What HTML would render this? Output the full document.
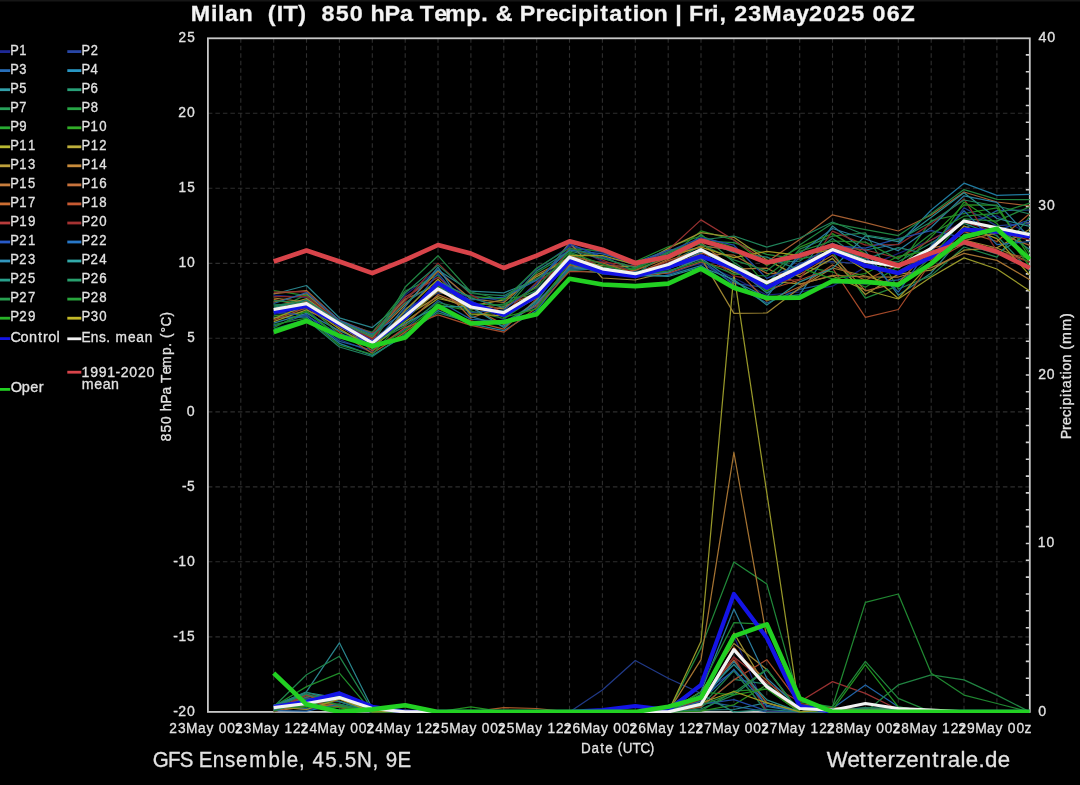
<!DOCTYPE html>
<html><head><meta charset="utf-8"><style>
html,body{margin:0;padding:0;background:#000;overflow:hidden}
svg{display:block;filter:blur(0.7px)}
text{font-family:"Liberation Sans",sans-serif;fill:#e2e2e2;white-space:pre;stroke:#e2e2e2;stroke-width:0.3px}
</style></head><body>
<svg width="1080" height="785" viewBox="0 0 1080 785">
<rect x="0" y="0" width="1080" height="785" fill="#000"/>
<rect x="0" y="0" width="1080" height="1.5" fill="#161616"/>

<path d="M240.8 38.3V711.9 M273.7 38.3V711.9 M306.5 38.3V711.9 M339.4 38.3V711.9 M372.3 38.3V711.9 M405.2 38.3V711.9 M438.0 38.3V711.9 M470.9 38.3V711.9 M503.8 38.3V711.9 M536.7 38.3V711.9 M569.5 38.3V711.9 M602.4 38.3V711.9 M635.3 38.3V711.9 M668.2 38.3V711.9 M701.0 38.3V711.9 M733.9 38.3V711.9 M766.8 38.3V711.9 M799.7 38.3V711.9 M832.5 38.3V711.9 M865.4 38.3V711.9 M898.3 38.3V711.9 M931.2 38.3V711.9 M964.0 38.3V711.9 M996.9 38.3V711.9 M207.9 636.9H1029.8 M207.9 561.8H1029.8 M207.9 486.9H1029.8 M207.9 411.9H1029.8 M207.9 338.3H1029.8 M207.9 263.4H1029.8 M207.9 188.2H1029.8 M207.9 113.2H1029.8" stroke="#2e2e2e" stroke-width="1.1" stroke-dasharray="4.5 3" fill="none"/>
<path d="M1025.8 695.1H1029.8 M1025.8 678.2H1029.8 M1025.8 661.4H1029.8 M1025.8 644.5H1029.8 M1025.8 627.7H1029.8 M1025.8 610.8H1029.8 M1025.8 594.0H1029.8 M1025.8 577.1H1029.8 M1025.8 560.3H1029.8 M1025.8 543.5H1029.8 M1025.8 526.6H1029.8 M1025.8 509.8H1029.8 M1025.8 492.9H1029.8 M1025.8 476.1H1029.8 M1025.8 459.2H1029.8 M1025.8 442.4H1029.8 M1025.8 425.5H1029.8 M1025.8 408.7H1029.8 M1025.8 391.8H1029.8 M1025.8 375.0H1029.8 M1025.8 358.2H1029.8 M1025.8 341.3H1029.8 M1025.8 324.5H1029.8 M1025.8 307.6H1029.8 M1025.8 290.8H1029.8 M1025.8 273.9H1029.8 M1025.8 257.1H1029.8 M1025.8 240.2H1029.8 M1025.8 223.4H1029.8 M1025.8 206.6H1029.8 M1025.8 189.7H1029.8 M1025.8 172.9H1029.8 M1025.8 156.0H1029.8 M1025.8 139.2H1029.8 M1025.8 122.3H1029.8 M1025.8 105.5H1029.8 M1025.8 88.6H1029.8 M1025.8 71.8H1029.8 M1025.8 54.9H1029.8" stroke="#d0d0d0" stroke-width="1.6" fill="none"/>
<rect x="207.9" y="38.3" width="821.9" height="673.6" stroke="#c8c8c8" stroke-width="1.8" fill="none"/>
<defs><clipPath id="pc"><rect x="206.9" y="37.3" width="823.9" height="675.6"/></clipPath></defs><g clip-path="url(#pc)">
<polyline points="273.7,295.1 306.5,297.6 339.4,323.5 372.3,342.7 405.2,295.1 438.0,269.3 470.9,302.0 503.8,320.0 536.7,289.1 569.5,245.1 602.4,261.5 635.3,272.1 668.2,270.1 701.0,264.0 733.9,277.7 766.8,295.1 799.7,292.0 832.5,286.2 865.4,267.1 898.3,253.5 931.2,240.0 964.0,221.0 996.9,215.9 1029.8,234.6" stroke="#18207a" stroke-width="1.25" fill="none" stroke-linejoin="round"/>
<polyline points="273.7,707.7 306.5,696.9 339.4,698.5 372.3,711.9 405.2,710.3 438.0,711.9 470.9,711.9 503.8,711.9 536.7,711.9 569.5,711.9 602.4,711.9 635.3,711.9 668.2,711.9 701.0,698.2 733.9,636.1 766.8,711.5 799.7,711.9 832.5,709.9 865.4,707.9 898.3,709.2 931.2,711.9 964.0,711.9 996.9,711.9 1029.8,711.9" stroke="#18207a" stroke-width="1.25" fill="none" stroke-linejoin="round"/>
<polyline points="273.7,314.5 306.5,308.8 339.4,339.5 372.3,352.1 405.2,308.5 438.0,292.9 470.9,295.7 503.8,301.1 536.7,269.0 569.5,246.3 602.4,252.4 635.3,265.6 668.2,274.3 701.0,262.5 733.9,283.3 766.8,287.6 799.7,262.9 832.5,261.6 865.4,264.1 898.3,271.4 931.2,252.5 964.0,207.8 996.9,225.9 1029.8,223.1" stroke="#203987" stroke-width="1.25" fill="none" stroke-linejoin="round"/>
<polyline points="273.7,705.8 306.5,709.6 339.4,704.0 372.3,711.9 405.2,711.5 438.0,711.9 470.9,711.9 503.8,711.9 536.7,711.9 569.5,711.9 602.4,690.0 635.3,660.5 668.2,678.2 701.0,693.4 733.9,671.0 766.8,711.7 799.7,711.9 832.5,711.0 865.4,710.7 898.3,708.0 931.2,711.9 964.0,711.9 996.9,711.9 1029.8,711.9" stroke="#203987" stroke-width="1.25" fill="none" stroke-linejoin="round"/>
<polyline points="273.7,326.1 306.5,314.5 339.4,341.4 372.3,350.0 405.2,329.1 438.0,300.5 470.9,319.4 503.8,321.4 536.7,306.1 569.5,267.8 602.4,270.4 635.3,273.8 668.2,268.1 701.0,259.4 733.9,285.1 766.8,303.0 799.7,289.4 832.5,282.5 865.4,283.8 898.3,279.9 931.2,264.9 964.0,228.8 996.9,210.6 1029.8,210.0" stroke="#205a97" stroke-width="1.25" fill="none" stroke-linejoin="round"/>
<polyline points="273.7,706.7 306.5,708.7 339.4,698.5 372.3,711.9 405.2,711.7 438.0,711.9 470.9,711.9 503.8,711.9 536.7,711.9 569.5,711.9 602.4,711.9 635.3,711.9 668.2,711.9 701.0,701.1 733.9,706.2 766.8,711.9 799.7,711.9 832.5,708.2 865.4,711.0 898.3,711.0 931.2,711.9 964.0,711.9 996.9,711.9 1029.8,711.9" stroke="#205a97" stroke-width="1.25" fill="none" stroke-linejoin="round"/>
<polyline points="273.7,317.3 306.5,316.9 339.4,343.3 372.3,355.4 405.2,335.2 438.0,310.7 470.9,323.8 503.8,330.6 536.7,310.3 569.5,269.0 602.4,269.6 635.3,275.9 668.2,275.4 701.0,265.6 733.9,287.0 766.8,299.0 799.7,294.7 832.5,246.0 865.4,250.0 898.3,244.0 931.2,210.0 964.0,183.2 996.9,195.4 1029.8,194.4" stroke="#207a9f" stroke-width="1.25" fill="none" stroke-linejoin="round"/>
<polyline points="273.7,705.3 306.5,694.3 339.4,707.0 372.3,711.9 405.2,710.3 438.0,711.9 470.9,711.9 503.8,711.9 536.7,711.9 569.5,711.9 602.4,711.9 635.3,711.9 668.2,711.9 701.0,702.8 733.9,661.1 766.8,706.3 799.7,711.9 832.5,707.9 865.4,709.0 898.3,707.8 931.2,711.9 964.0,711.9 996.9,711.9 1029.8,711.9" stroke="#207a9f" stroke-width="1.25" fill="none" stroke-linejoin="round"/>
<polyline points="273.7,294.0 306.5,285.5 339.4,317.8 372.3,327.6 405.2,300.0 438.0,270.0 470.9,291.2 503.8,292.8 536.7,280.0 569.5,250.0 602.4,256.0 635.3,271.3 668.2,269.1 701.0,252.1 733.9,266.2 766.8,293.1 799.7,272.2 832.5,225.9 865.4,251.0 898.3,295.2 931.2,272.9 964.0,234.6 996.9,227.9 1029.8,249.4" stroke="#29838b" stroke-width="1.25" fill="none" stroke-linejoin="round"/>
<polyline points="273.7,705.9 306.5,691.7 339.4,642.8 372.3,708.5 405.2,711.6 438.0,711.9 470.9,711.9 503.8,711.9 536.7,711.9 569.5,711.9 602.4,711.9 635.3,711.9 668.2,711.9 701.0,710.2 733.9,709.5 766.8,702.7 799.7,711.9 832.5,709.4 865.4,711.9 898.3,709.0 931.2,711.9 964.0,711.9 996.9,711.9 1029.8,711.9" stroke="#29838b" stroke-width="1.25" fill="none" stroke-linejoin="round"/>
<polyline points="273.7,329.2 306.5,319.4 339.4,347.0 372.3,356.5 405.2,333.7 438.0,312.8 470.9,322.3 503.8,322.9 536.7,302.0 569.5,270.2 602.4,272.9 635.3,275.5 668.2,263.4 701.0,245.6 733.9,250.2 766.8,262.7 799.7,261.1 832.5,238.6 865.4,261.5 898.3,261.8 931.2,243.0 964.0,223.3 996.9,235.7 1029.8,270.8" stroke="#208362" stroke-width="1.25" fill="none" stroke-linejoin="round"/>
<polyline points="273.7,709.6 306.5,705.6 339.4,698.1 372.3,711.9 405.2,711.1 438.0,711.9 470.9,711.9 503.8,711.9 536.7,711.9 569.5,711.9 602.4,711.9 635.3,711.9 668.2,711.9 701.0,707.4 733.9,679.4 766.8,684.1 799.7,711.9 832.5,711.7 865.4,707.8 898.3,711.8 931.2,711.9 964.0,711.9 996.9,711.9 1029.8,711.9" stroke="#208362" stroke-width="1.25" fill="none" stroke-linejoin="round"/>
<polyline points="273.7,306.1 306.5,299.5 339.4,321.0 372.3,343.4 405.2,326.1 438.0,302.5 470.9,309.9 503.8,303.8 536.7,290.7 569.5,254.3 602.4,270.8 635.3,275.0 668.2,266.2 701.0,234.3 733.9,262.2 766.8,284.2 799.7,249.2 832.5,236.1 865.4,232.8 898.3,289.0 931.2,275.6 964.0,247.0 996.9,257.1 1029.8,216.7" stroke="#208349" stroke-width="1.25" fill="none" stroke-linejoin="round"/>
<polyline points="273.7,706.8 306.5,674.8 339.4,656.3 372.3,710.2 405.2,710.6 438.0,711.9 470.9,711.9 503.8,711.9 536.7,711.9 569.5,711.9 602.4,711.9 635.3,711.9 668.2,711.9 701.0,706.4 733.9,670.6 766.8,711.8 799.7,711.9 832.5,711.7 865.4,711.1 898.3,707.9 931.2,711.9 964.0,711.9 996.9,711.9 1029.8,711.9" stroke="#208349" stroke-width="1.25" fill="none" stroke-linejoin="round"/>
<polyline points="273.7,310.6 306.5,294.6 339.4,322.3 372.3,332.4 405.2,291.0 438.0,275.3 470.9,315.2 503.8,311.2 536.7,272.8 569.5,253.2 602.4,267.1 635.3,268.5 668.2,254.7 701.0,240.9 733.9,242.6 766.8,254.3 799.7,259.2 832.5,252.2 865.4,298.2 898.3,285.9 931.2,257.3 964.0,218.8 996.9,221.1 1029.8,206.7" stroke="#208739" stroke-width="1.25" fill="none" stroke-linejoin="round"/>
<polyline points="273.7,710.6 306.5,696.6 339.4,696.2 372.3,711.9 405.2,710.3 438.0,711.9 470.9,711.9 503.8,711.9 536.7,711.9 569.5,711.9 602.4,711.9 635.3,711.9 668.2,711.9 701.0,647.9 733.9,562.0 766.8,583.9 799.7,701.8 832.5,706.8 865.4,661.4 898.3,698.4 931.2,711.9 964.0,711.9 996.9,711.9 1029.8,711.9" stroke="#208739" stroke-width="1.25" fill="none" stroke-linejoin="round"/>
<polyline points="273.7,290.7 306.5,295.6 339.4,324.2 372.3,349.0 405.2,330.6 438.0,304.5 470.9,311.1 503.8,318.5 536.7,296.8 569.5,248.7 602.4,250.8 635.3,261.5 668.2,246.8 701.0,236.0 733.9,247.7 766.8,285.9 799.7,266.3 832.5,271.8 865.4,287.3 898.3,266.5 931.2,220.6 964.0,213.5 996.9,207.8 1029.8,253.6" stroke="#208b29" stroke-width="1.25" fill="none" stroke-linejoin="round"/>
<polyline points="273.7,706.5 306.5,686.6 339.4,673.2 372.3,711.9 405.2,710.3 438.0,711.9 470.9,711.9 503.8,711.9 536.7,711.9 569.5,711.9 602.4,711.9 635.3,711.9 668.2,711.9 701.0,711.0 733.9,691.1 766.8,688.8 799.7,711.9 832.5,708.0 865.4,710.5 898.3,708.0 931.2,711.9 964.0,711.9 996.9,711.9 1029.8,711.9" stroke="#208b29" stroke-width="1.25" fill="none" stroke-linejoin="round"/>
<polyline points="273.7,315.9 306.5,312.2 339.4,335.9 372.3,340.6 405.2,315.3 438.0,283.0 470.9,296.8 503.8,298.4 536.7,295.5 569.5,261.1 602.4,270.0 635.3,269.4 668.2,257.7 701.0,230.9 733.9,240.0 766.8,265.5 799.7,247.1 832.5,233.6 865.4,253.9 898.3,268.8 931.2,236.9 964.0,204.9 996.9,205.1 1029.8,257.8" stroke="#298d20" stroke-width="1.25" fill="none" stroke-linejoin="round"/>
<polyline points="273.7,708.2 306.5,705.6 339.4,706.6 372.3,711.9 405.2,711.6 438.0,711.9 470.9,711.9 503.8,711.9 536.7,711.9 569.5,711.9 602.4,711.9 635.3,711.9 668.2,711.9 701.0,711.2 733.9,704.8 766.8,684.9 799.7,711.9 832.5,707.7 865.4,711.2 898.3,711.7 931.2,711.9 964.0,711.9 996.9,711.9 1029.8,711.9" stroke="#298d20" stroke-width="1.25" fill="none" stroke-linejoin="round"/>
<polyline points="273.7,321.6 306.5,309.9 339.4,325.7 372.3,347.0 405.2,321.7 438.0,298.5 470.9,305.8 503.8,299.8 536.7,276.6 569.5,258.0 602.4,269.3 635.3,274.0 668.2,264.5 701.0,254.9 733.9,272.4 766.8,280.8 799.7,284.0 832.5,276.0 865.4,290.0 898.3,299.0 931.2,277.0 964.0,257.9 996.9,269.0 1029.8,291.0" stroke="#979729" stroke-width="1.25" fill="none" stroke-linejoin="round"/>
<polyline points="273.7,705.3 306.5,701.1 339.4,705.1 372.3,711.9 405.2,711.5 438.0,711.9 470.9,711.9 503.8,711.9 536.7,711.9 569.5,711.9 602.4,711.9 635.3,711.9 668.2,711.9 701.0,641.2 733.9,273.9 766.8,492.9 799.7,711.9 832.5,710.1 865.4,711.7 898.3,708.0 931.2,711.9 964.0,711.9 996.9,711.9 1029.8,711.9" stroke="#979729" stroke-width="1.25" fill="none" stroke-linejoin="round"/>
<polyline points="273.7,308.5 306.5,298.5 339.4,321.8 372.3,339.8 405.2,316.5 438.0,296.6 470.9,308.6 503.8,312.2 536.7,292.2 569.5,260.0 602.4,265.7 635.3,266.6 668.2,248.4 701.0,232.6 733.9,237.3 766.8,259.9 799.7,276.9 832.5,258.4 865.4,294.5 898.3,274.1 931.2,270.2 964.0,250.2 996.9,247.7 1029.8,229.3" stroke="#9b8f31" stroke-width="1.25" fill="none" stroke-linejoin="round"/>
<polyline points="273.7,711.7 306.5,701.9 339.4,697.8 372.3,711.9 405.2,711.7 438.0,711.9 470.9,711.9 503.8,711.9 536.7,711.9 569.5,711.9 602.4,711.9 635.3,711.9 668.2,711.9 701.0,698.4 733.9,633.1 766.8,687.9 799.7,711.9 832.5,708.6 865.4,711.5 898.3,710.1 931.2,711.9 964.0,711.9 996.9,711.9 1029.8,711.9" stroke="#9b8f31" stroke-width="1.25" fill="none" stroke-linejoin="round"/>
<polyline points="273.7,298.0 306.5,302.1 339.4,327.3 372.3,342.1 405.2,319.0 438.0,291.1 470.9,304.9 503.8,308.8 536.7,285.7 569.5,242.6 602.4,278.0 635.3,280.0 668.2,272.0 701.0,257.9 733.9,313.4 766.8,313.0 799.7,288.0 832.5,268.0 865.4,276.0 898.3,286.0 931.2,262.0 964.0,240.0 996.9,248.0 1029.8,262.0" stroke="#9b8331" stroke-width="1.25" fill="none" stroke-linejoin="round"/>
<polyline points="273.7,710.9 306.5,694.8 339.4,706.9 372.3,711.9 405.2,711.1 438.0,711.9 470.9,711.9 503.8,711.9 536.7,711.9 569.5,711.9 602.4,711.9 635.3,711.9 668.2,711.9 701.0,691.7 733.9,643.5 766.8,669.5 799.7,711.9 832.5,710.0 865.4,709.8 898.3,708.8 931.2,711.9 964.0,711.9 996.9,711.9 1029.8,711.9" stroke="#9b8331" stroke-width="1.25" fill="none" stroke-linejoin="round"/>
<polyline points="273.7,293.7 306.5,290.5 339.4,320.7 372.3,337.5 405.2,304.8 438.0,271.3 470.9,298.9 503.8,302.5 536.7,274.7 569.5,257.2 602.4,268.3 635.3,274.1 668.2,259.2 701.0,242.5 733.9,269.1 766.8,268.2 799.7,284.3 832.5,275.4 865.4,276.9 898.3,277.0 931.2,267.6 964.0,253.4 996.9,260.4 1029.8,279.7" stroke="#a47231" stroke-width="1.25" fill="none" stroke-linejoin="round"/>
<polyline points="273.7,708.7 306.5,706.0 339.4,705.1 372.3,711.9 405.2,711.7 438.0,711.9 470.9,711.9 503.8,711.9 536.7,711.9 569.5,711.9 602.4,711.9 635.3,711.9 668.2,711.9 701.0,659.7 733.9,452.5 766.8,637.8 799.7,706.8 832.5,709.3 865.4,709.8 898.3,710.5 931.2,711.9 964.0,711.9 996.9,711.9 1029.8,711.9" stroke="#a47231" stroke-width="1.25" fill="none" stroke-linejoin="round"/>
<polyline points="273.7,302.1 306.5,293.6 339.4,322.8 372.3,335.8 405.2,299.0 438.0,284.8 470.9,318.0 503.8,306.4 536.7,293.3 569.5,264.4 602.4,272.5 635.3,274.8 668.2,267.1 701.0,253.5 733.9,255.2 766.8,273.4 799.7,274.5 832.5,255.2 865.4,290.9 898.3,282.9 931.2,248.3 964.0,240.7 996.9,232.9 1029.8,245.4" stroke="#a46631" stroke-width="1.25" fill="none" stroke-linejoin="round"/>
<polyline points="273.7,711.3 306.5,706.4 339.4,698.7 372.3,711.9 405.2,710.4 438.0,711.9 470.9,711.9 503.8,711.9 536.7,711.9 569.5,711.9 602.4,711.9 635.3,711.9 668.2,711.9 701.0,706.5 733.9,650.3 766.8,680.5 799.7,711.9 832.5,709.0 865.4,709.1 898.3,708.7 931.2,711.9 964.0,711.9 996.9,711.9 1029.8,711.9" stroke="#a46631" stroke-width="1.25" fill="none" stroke-linejoin="round"/>
<polyline points="273.7,309.5 306.5,301.3 339.4,321.3 372.3,338.3 405.2,324.6 438.0,294.7 470.9,307.5 503.8,324.4 536.7,304.7 569.5,265.5 602.4,271.6 635.3,270.4 668.2,258.0 701.0,246.0 733.9,250.0 766.8,262.0 799.7,239.6 832.5,214.8 865.4,222.6 898.3,231.0 931.2,215.0 964.0,192.0 996.9,202.0 1029.8,206.0" stroke="#a45e31" stroke-width="1.25" fill="none" stroke-linejoin="round"/>
<polyline points="273.7,709.5 306.5,697.7 339.4,707.2 372.3,711.9 405.2,711.1 438.0,711.9 470.9,711.9 503.8,711.9 536.7,711.9 569.5,711.9 602.4,711.9 635.3,711.9 668.2,711.9 701.0,697.5 733.9,659.8 766.8,703.0 799.7,711.9 832.5,707.9 865.4,709.2 898.3,709.5 931.2,711.9 964.0,711.9 996.9,711.9 1029.8,711.9" stroke="#a45e31" stroke-width="1.25" fill="none" stroke-linejoin="round"/>
<polyline points="273.7,299.4 306.5,306.6 339.4,332.3 372.3,353.2 405.2,332.1 438.0,308.6 470.9,320.8 503.8,329.1 536.7,299.3 569.5,256.3 602.4,262.9 635.3,273.7 668.2,260.7 701.0,249.7 733.9,267.6 766.8,301.0 799.7,286.8 832.5,265.0 865.4,280.3 898.3,264.3 931.2,259.8 964.0,231.6 996.9,241.5 1029.8,213.4" stroke="#a85a29" stroke-width="1.25" fill="none" stroke-linejoin="round"/>
<polyline points="273.7,711.8 306.5,700.8 339.4,707.7 372.3,711.9 405.2,710.8 438.0,711.9 470.9,711.9 503.8,707.7 536.7,708.5 569.5,711.9 602.4,711.9 635.3,711.9 668.2,711.9 701.0,704.5 733.9,647.2 766.8,687.0 799.7,711.9 832.5,708.5 865.4,710.4 898.3,709.2 931.2,711.9 964.0,711.9 996.9,711.9 1029.8,711.9" stroke="#a85a29" stroke-width="1.25" fill="none" stroke-linejoin="round"/>
<polyline points="273.7,320.2 306.5,307.7 339.4,322.6 372.3,351.1 405.2,327.6 438.0,314.9 470.9,325.3 503.8,332.2 536.7,307.5 569.5,271.4 602.4,272.1 635.3,275.4 668.2,273.2 701.0,262.0 733.9,270.0 766.8,290.0 799.7,280.0 832.5,268.0 865.4,317.3 898.3,309.5 931.2,262.0 964.0,244.0 996.9,252.0 1029.8,258.0" stroke="#a44929" stroke-width="1.25" fill="none" stroke-linejoin="round"/>
<polyline points="273.7,706.9 306.5,695.2 339.4,706.0 372.3,711.9 405.2,710.5 438.0,711.9 470.9,711.9 503.8,711.9 536.7,711.9 569.5,711.9 602.4,711.9 635.3,711.9 668.2,711.9 701.0,706.8 733.9,679.9 766.8,659.7 799.7,703.5 832.5,707.9 865.4,709.7 898.3,709.7 931.2,711.9 964.0,711.9 996.9,711.9 1029.8,711.9" stroke="#a44929" stroke-width="1.25" fill="none" stroke-linejoin="round"/>
<polyline points="273.7,292.2 306.5,291.6 339.4,320.1 372.3,333.3 405.2,297.1 438.0,277.3 470.9,303.0 503.8,314.4 536.7,282.1 569.5,262.0 602.4,262.0 635.3,266.0 668.2,250.0 701.0,219.9 733.9,240.0 766.8,262.0 799.7,258.0 832.5,246.0 865.4,250.0 898.3,258.0 931.2,240.0 964.0,222.0 996.9,232.0 1029.8,240.0" stroke="#973131" stroke-width="1.25" fill="none" stroke-linejoin="round"/>
<polyline points="273.7,710.8 306.5,695.0 339.4,696.1 372.3,711.9 405.2,711.1 438.0,711.9 470.9,711.9 503.8,711.9 536.7,711.9 569.5,711.9 602.4,711.9 635.3,711.9 668.2,711.9 701.0,699.4 733.9,657.0 766.8,682.8 799.7,701.8 832.5,681.6 865.4,693.4 898.3,709.5 931.2,711.9 964.0,711.9 996.9,711.9 1029.8,711.9" stroke="#973131" stroke-width="1.25" fill="none" stroke-linejoin="round"/>
<polyline points="273.7,296.5 306.5,296.6 339.4,322.1 372.3,339.1 405.2,301.0 438.0,263.1 470.9,294.6 503.8,313.2 536.7,294.4 569.5,247.5 602.4,260.0 635.3,273.0 668.2,262.0 701.0,250.8 733.9,275.9 766.8,282.8 799.7,279.3 832.5,231.1 865.4,245.1 898.3,244.7 931.2,223.9 964.0,198.9 996.9,250.8 1029.8,262.1" stroke="#872929" stroke-width="1.25" fill="none" stroke-linejoin="round"/>
<polyline points="273.7,707.4 306.5,703.4 339.4,701.4 372.3,711.9 405.2,710.6 438.0,711.9 470.9,711.9 503.8,711.9 536.7,711.9 569.5,711.9 602.4,711.9 635.3,711.9 668.2,711.9 701.0,700.7 733.9,656.9 766.8,711.5 799.7,711.9 832.5,711.2 865.4,710.0 898.3,709.2 931.2,711.9 964.0,711.9 996.9,711.9 1029.8,711.9" stroke="#872929" stroke-width="1.25" fill="none" stroke-linejoin="round"/>
<polyline points="273.7,311.8 306.5,315.7 339.4,334.1 372.3,341.3 405.2,313.8 438.0,273.3 470.9,312.5 503.8,310.0 536.7,283.9 569.5,243.8 602.4,257.0 635.3,263.6 668.2,251.6 701.0,237.6 733.9,245.2 766.8,278.4 799.7,264.7 832.5,245.6 865.4,248.1 898.3,238.6 931.2,230.6 964.0,237.6 996.9,230.2 1029.8,220.0" stroke="#2049a4" stroke-width="1.25" fill="none" stroke-linejoin="round"/>
<polyline points="273.7,710.4 306.5,698.0 339.4,701.3 372.3,711.9 405.2,711.8 438.0,711.9 470.9,711.9 503.8,711.9 536.7,711.9 569.5,711.9 602.4,711.9 635.3,711.9 668.2,711.9 701.0,704.3 733.9,699.7 766.8,710.9 799.7,711.9 832.5,711.3 865.4,710.6 898.3,711.1 931.2,711.9 964.0,711.9 996.9,711.9 1029.8,711.9" stroke="#2049a4" stroke-width="1.25" fill="none" stroke-linejoin="round"/>
<polyline points="273.7,303.5 306.5,292.6 339.4,320.4 372.3,334.1 405.2,312.1 438.0,288.1 470.9,300.0 503.8,297.1 536.7,280.3 569.5,249.8 602.4,253.9 635.3,262.5 668.2,250.0 701.0,248.5 733.9,270.7 766.8,289.4 799.7,257.2 832.5,243.3 865.4,256.6 898.3,292.1 931.2,245.8 964.0,210.7 996.9,244.6 1029.8,241.5" stroke="#2062a4" stroke-width="1.25" fill="none" stroke-linejoin="round"/>
<polyline points="273.7,710.6 306.5,711.2 339.4,704.1 372.3,711.9 405.2,711.3 438.0,711.9 470.9,711.9 503.8,711.9 536.7,711.9 569.5,711.9 602.4,711.9 635.3,711.9 668.2,711.9 701.0,701.2 733.9,669.5 766.8,705.1 799.7,711.9 832.5,708.5 865.4,684.9 898.3,706.8 931.2,711.9 964.0,711.9 996.9,711.9 1029.8,711.9" stroke="#2062a4" stroke-width="1.25" fill="none" stroke-linejoin="round"/>
<polyline points="273.7,323.1 306.5,313.3 339.4,330.6 372.3,345.1 405.2,306.7 438.0,267.2 470.9,316.6 503.8,326.0 536.7,303.3 569.5,266.7 602.4,271.2 635.3,275.7 668.2,272.2 701.0,257.9 733.9,281.4 766.8,297.0 799.7,253.3 832.5,228.5 865.4,239.0 898.3,250.6 931.2,227.3 964.0,195.8 996.9,202.3 1029.8,237.8" stroke="#297a9b" stroke-width="1.25" fill="none" stroke-linejoin="round"/>
<polyline points="273.7,710.0 306.5,703.6 339.4,710.0 372.3,711.9 405.2,710.5 438.0,711.9 470.9,711.9 503.8,711.9 536.7,711.9 569.5,711.9 602.4,711.9 635.3,711.9 668.2,711.9 701.0,691.7 733.9,609.1 766.8,678.2 799.7,708.5 832.5,711.5 865.4,709.6 898.3,710.5 931.2,711.9 964.0,711.9 996.9,711.9 1029.8,711.9" stroke="#297a9b" stroke-width="1.25" fill="none" stroke-linejoin="round"/>
<polyline points="273.7,313.1 306.5,304.6 339.4,323.3 372.3,344.2 405.2,323.2 438.0,306.6 470.9,306.6 503.8,327.5 536.7,300.6 569.5,259.0 602.4,273.3 635.3,275.2 668.2,276.5 701.0,267.2 733.9,279.5 766.8,305.0 799.7,281.8 832.5,268.4 865.4,235.9 898.3,241.7 931.2,217.2 964.0,192.7 996.9,218.5 1029.8,226.3" stroke="#298b8b" stroke-width="1.25" fill="none" stroke-linejoin="round"/>
<polyline points="273.7,708.0 306.5,692.5 339.4,698.1 372.3,711.9 405.2,711.2 438.0,711.9 470.9,711.9 503.8,711.9 536.7,711.9 569.5,711.9 602.4,711.9 635.3,711.9 668.2,711.9 701.0,696.5 733.9,664.5 766.8,699.9 799.7,711.9 832.5,711.3 865.4,709.4 898.3,709.5 931.2,711.9 964.0,711.9 996.9,711.9 1029.8,711.9" stroke="#298b8b" stroke-width="1.25" fill="none" stroke-linejoin="round"/>
<polyline points="273.7,307.3 306.5,300.4 339.4,321.5 372.3,335.0 405.2,302.9 438.0,281.1 470.9,297.9 503.8,307.6 536.7,270.9 569.5,251.0 602.4,258.5 635.3,267.5 668.2,253.2 701.0,239.3 733.9,252.7 766.8,257.1 799.7,269.9 832.5,247.7 865.4,259.2 898.3,247.7 931.2,254.8 964.0,243.8 996.9,253.9 1029.8,232.1" stroke="#208372" stroke-width="1.25" fill="none" stroke-linejoin="round"/>
<polyline points="273.7,705.5 306.5,692.3 339.4,701.6 372.3,711.9 405.2,711.3 438.0,711.9 470.9,711.9 503.8,711.9 536.7,711.9 569.5,711.9 602.4,711.9 635.3,711.9 668.2,711.9 701.0,694.4 733.9,711.9 766.8,709.5 799.7,711.9 832.5,709.5 865.4,709.3 898.3,711.3 931.2,711.9 964.0,711.9 996.9,711.9 1029.8,711.9" stroke="#208372" stroke-width="1.25" fill="none" stroke-linejoin="round"/>
<polyline points="273.7,304.8 306.5,303.7 339.4,323.1 372.3,336.6 405.2,293.0 438.0,265.1 470.9,293.5 503.8,295.7 536.7,278.5 569.5,263.3 602.4,273.8 635.3,274.5 668.2,252.0 701.0,240.0 733.9,236.0 766.8,247.1 799.7,238.0 832.5,222.0 865.4,235.0 898.3,240.0 931.2,222.0 964.0,200.0 996.9,206.0 1029.8,214.0" stroke="#20835a" stroke-width="1.25" fill="none" stroke-linejoin="round"/>
<polyline points="273.7,707.7 306.5,693.9 339.4,705.6 372.3,711.9 405.2,711.2 438.0,711.9 470.9,711.9 503.8,711.9 536.7,711.9 569.5,711.9 602.4,711.9 635.3,711.9 668.2,711.9 701.0,709.0 733.9,694.9 766.8,669.7 799.7,711.9 832.5,710.3 865.4,707.9 898.3,708.1 931.2,711.9 964.0,711.9 996.9,711.9 1029.8,711.9" stroke="#20835a" stroke-width="1.25" fill="none" stroke-linejoin="round"/>
<polyline points="273.7,300.7 306.5,303.0 339.4,335.0 372.3,345.0 405.2,287.0 438.0,255.7 470.9,292.0 503.8,300.0 536.7,268.0 569.5,248.0 602.4,258.0 635.3,268.0 668.2,252.0 701.0,244.1 733.9,259.9 766.8,270.8 799.7,245.1 832.5,223.3 865.4,229.6 898.3,235.6 931.2,213.7 964.0,189.6 996.9,199.4 1029.8,199.7" stroke="#208341" stroke-width="1.25" fill="none" stroke-linejoin="round"/>
<polyline points="273.7,707.9 306.5,706.6 339.4,695.4 372.3,711.9 405.2,711.1 438.0,711.9 470.9,711.9 503.8,711.9 536.7,711.9 569.5,711.9 602.4,711.9 635.3,711.9 668.2,711.9 701.0,705.4 733.9,692.8 766.8,669.0 799.7,711.9 832.5,709.8 865.4,711.9 898.3,684.9 931.2,674.8 964.0,679.9 996.9,695.1 1029.8,711.9" stroke="#208341" stroke-width="1.25" fill="none" stroke-linejoin="round"/>
<polyline points="273.7,324.6 306.5,318.2 339.4,345.1 372.3,354.3 405.2,317.7 438.0,289.5 470.9,304.0 503.8,305.1 536.7,287.4 569.5,252.1 602.4,264.4 635.3,274.3 668.2,271.1 701.0,260.9 733.9,274.2 766.8,276.0 799.7,251.3 832.5,241.0 865.4,242.1 898.3,259.1 931.2,233.8 964.0,216.2 996.9,213.3 1029.8,203.2" stroke="#208731" stroke-width="1.25" fill="none" stroke-linejoin="round"/>
<polyline points="273.7,711.1 306.5,699.3 339.4,704.4 372.3,711.9 405.2,711.4 438.0,711.9 470.9,711.9 503.8,711.9 536.7,711.9 569.5,711.9 602.4,711.9 635.3,711.9 668.2,706.8 701.0,686.6 733.9,622.6 766.8,624.3 799.7,705.2 832.5,706.8 865.4,602.4 898.3,594.0 931.2,673.2 964.0,695.1 996.9,703.5 1029.8,711.9" stroke="#208731" stroke-width="1.25" fill="none" stroke-linejoin="round"/>
<polyline points="273.7,327.7 306.5,311.0 339.4,337.7 372.3,346.0 405.2,320.4 438.0,286.5 470.9,301.0 503.8,317.1 536.7,308.9 569.5,262.2 602.4,268.9 635.3,274.6 668.2,265.3 701.0,256.4 733.9,264.3 766.8,291.3 799.7,267.9 832.5,278.9 865.4,273.5 898.3,256.3 931.2,250.3 964.0,201.9 996.9,223.5 1029.8,266.4" stroke="#209120" stroke-width="1.25" fill="none" stroke-linejoin="round"/>
<polyline points="273.7,706.6 306.5,706.9 339.4,707.4 372.3,711.9 405.2,711.6 438.0,711.9 470.9,706.8 503.8,711.9 536.7,711.9 569.5,711.9 602.4,711.9 635.3,711.9 668.2,711.9 701.0,692.0 733.9,694.8 766.8,689.0 799.7,711.9 832.5,709.9 865.4,664.7 898.3,706.8 931.2,711.9 964.0,711.9 996.9,711.9 1029.8,711.9" stroke="#209120" stroke-width="1.25" fill="none" stroke-linejoin="round"/>
<polyline points="273.7,318.7 306.5,305.5 339.4,328.9 372.3,348.0 405.2,310.3 438.0,279.2 470.9,313.8 503.8,315.8 536.7,298.0 569.5,255.3 602.4,255.5 635.3,264.6 668.2,256.2 701.0,247.1 733.9,257.6 766.8,251.4 799.7,255.3 832.5,249.6 865.4,270.3 898.3,298.4 931.2,262.3 964.0,226.0 996.9,238.6 1029.8,275.2" stroke="#9f9720" stroke-width="1.25" fill="none" stroke-linejoin="round"/>
<polyline points="273.7,706.9 306.5,709.5 339.4,699.1 372.3,711.9 405.2,711.4 438.0,711.9 470.9,711.9 503.8,711.9 536.7,711.9 569.5,711.9 602.4,711.9 635.3,711.9 668.2,711.9 701.0,703.0 733.9,691.5 766.8,702.9 799.7,711.9 832.5,709.7 865.4,709.9 898.3,710.4 931.2,711.9 964.0,711.9 996.9,711.9 1029.8,711.9" stroke="#9f9720" stroke-width="1.25" fill="none" stroke-linejoin="round"/>
<polyline points="273.7,312.0 306.5,306.0 339.4,324.4 372.3,342.6 405.2,317.7 438.0,283.0 470.9,303.0 503.8,315.0 536.7,296.0 569.5,261.0 602.4,272.1 635.3,276.2 668.2,267.1 701.0,256.3 733.9,267.9 766.8,287.7 799.7,271.0 832.5,251.2 865.4,265.8 898.3,273.2 931.2,257.0 964.0,229.5 996.9,231.7 1029.8,236.5" stroke="#1414e6" stroke-width="4.2" fill="none" stroke-linejoin="round"/>
<polyline points="273.7,706.8 306.5,701.8 339.4,693.4 372.3,706.8 405.2,711.9 438.0,711.9 470.9,711.9 503.8,711.9 536.7,711.9 569.5,711.9 602.4,710.2 635.3,706.0 668.2,710.2 701.0,684.9 733.9,594.0 766.8,637.8 799.7,706.0 832.5,711.9 865.4,711.9 898.3,711.9 931.2,711.9 964.0,711.9 996.9,711.9 1029.8,711.9" stroke="#1414e6" stroke-width="4.2" fill="none" stroke-linejoin="round"/>
<polyline points="273.7,309.5 306.5,303.7 339.4,323.6 372.3,343.0 405.2,316.0 438.0,288.8 470.9,307.0 503.8,312.7 536.7,292.8 569.5,257.2 602.4,268.8 635.3,273.7 668.2,264.5 701.0,249.7 733.9,266.2 766.8,282.8 799.7,267.0 832.5,249.6 865.4,261.5 898.3,266.5 931.2,248.3 964.0,221.0 996.9,227.9 1029.8,234.6" stroke="#f2f2f2" stroke-width="3.2" fill="none" stroke-linejoin="round"/>
<polyline points="273.7,707.7 306.5,703.5 339.4,697.6 372.3,708.5 405.2,711.9 438.0,711.9 470.9,711.9 503.8,711.9 536.7,711.9 569.5,711.9 602.4,711.9 635.3,711.9 668.2,711.9 701.0,704.3 733.9,649.6 766.8,686.6 799.7,708.5 832.5,710.2 865.4,703.5 898.3,708.5 931.2,710.2 964.0,711.9 996.9,711.9 1029.8,711.9" stroke="#f2f2f2" stroke-width="3.2" fill="none" stroke-linejoin="round"/>
<polyline points="273.7,261.5 306.5,250.5 339.4,261.5 372.3,273.2 405.2,259.8 438.0,245.0 470.9,253.5 503.8,268.0 536.7,255.6 569.5,241.3 602.4,249.7 635.3,263.0 668.2,256.7 701.0,240.5 733.9,249.7 766.8,262.5 799.7,255.4 832.5,245.4 865.4,255.6 898.3,265.5 931.2,253.1 964.0,242.0 996.9,251.8 1029.8,268.0" stroke="#d8444a" stroke-width="4.6" fill="none" stroke-linejoin="round"/>
<polyline points="273.7,332.0 306.5,321.0 339.4,336.0 372.3,346.0 405.2,337.6 438.0,306.0 470.9,323.5 503.8,322.0 536.7,314.3 569.5,278.8 602.4,284.5 635.3,286.1 668.2,283.6 701.0,268.7 733.9,287.7 766.8,298.0 799.7,297.6 832.5,281.0 865.4,281.9 898.3,284.7 931.2,263.6 964.0,237.0 996.9,228.8 1029.8,259.4" stroke="#22d022" stroke-width="4.6" fill="none" stroke-linejoin="round"/>
<polyline points="273.7,673.2 306.5,704.3 339.4,711.9 372.3,709.4 405.2,705.2 438.0,711.9 470.9,711.9 503.8,711.9 536.7,711.9 569.5,711.9 602.4,711.9 635.3,711.9 668.2,706.8 701.0,697.6 733.9,636.1 766.8,624.3 799.7,698.4 832.5,711.9 865.4,711.9 898.3,711.9 931.2,711.9 964.0,711.9 996.9,711.9 1029.8,711.9" stroke="#22d022" stroke-width="4.6" fill="none" stroke-linejoin="round"/>
</g>
<text transform="translate(190.50,20.90) scale(1.0846,1)" x="0.35 18.85 25.26 31.79 44.18 57.68 64.20 71.14 79.49 85.78 99.43 107.56 114.07 120.85 133.87 146.90 159.66 166.00 178.92 193.28 205.35 211.41 224.73 234.76 254.20 268.04 274.85 281.49 297.69 303.63 318.09 327.25 339.15 350.90 357.22 370.71 377.80 386.19 399.38 407.65 413.71 426.80 440.30 446.96 453.66 459.73 473.12 480.94 487.70 494.52 501.30 514.32 527.17 545.77 558.19 570.22 583.25 596.27 609.30 622.06 628.84 641.86 654.57" y="0" font-size="21.51" font-weight="bold" style="fill:#f4f4f4">Milan  (IT)  850 hPa Temp. &amp; Precipitation | Fri, 23May2025 06Z</text>
<text transform="translate(173.08,715.70) scale(0.9836,1)" x="0.09 5.34 14.07" y="0" font-size="14.30">-20</text>
<text transform="translate(173.18,640.70) scale(0.9621,1)" x="0.15 5.55 14.48" y="0" font-size="14.30">-15</text>
<text transform="translate(173.08,565.60) scale(0.9824,1)" x="0.10 5.35 14.10" y="0" font-size="14.30">-10</text>
<text transform="translate(181.76,490.70) scale(0.9666,1)" x="0.14 5.50" y="0" font-size="14.30">-5</text>
<text transform="translate(186.50,415.70) scale(0.9929,1)" x="0.35" y="0" font-size="14.30">0</text>
<text transform="translate(186.71,342.10) scale(0.9438,1)" x="0.57" y="0" font-size="14.30">5</text>
<text transform="translate(177.98,267.20) scale(0.9748,1)" x="0.43 9.24" y="0" font-size="14.30">10</text>
<text transform="translate(178.10,192.00) scale(0.9490,1)" x="0.55 9.60" y="0" font-size="14.30">15</text>
<text transform="translate(177.97,117.00) scale(0.9765,1)" x="0.42 9.22" y="0" font-size="14.30">20</text>
<text transform="translate(178.09,42.10) scale(0.9513,1)" x="0.54 9.57" y="0" font-size="14.30">25</text>
<text transform="translate(1038.02,715.70) scale(0.9929,1)" x="0.35" y="0" font-size="14.30">0</text>
<text transform="translate(1037.44,547.25) scale(0.9748,1)" x="0.43 9.24" y="0" font-size="14.30">10</text>
<text transform="translate(1037.79,378.80) scale(0.9765,1)" x="0.42 9.22" y="0" font-size="14.30">20</text>
<text transform="translate(1037.96,210.35) scale(0.9759,1)" x="0.42 9.22" y="0" font-size="14.30">30</text>
<text transform="translate(1038.25,41.90) scale(0.9965,1)" x="0.33 8.95" y="0" font-size="14.30">40</text>
<text transform="translate(168.84,732.80) scale(0.9615,1)" x="0.49 9.42 17.97 30.31 39.16 47.14 51.85 60.78 69.33" y="0" font-size="14.30">23May 00z</text>
<text transform="translate(234.57,732.80) scale(0.9528,1)" x="0.53 9.54 18.18 30.62 39.55 47.59 52.36 61.37 70.00" y="0" font-size="14.30">23May 12z</text>
<text transform="translate(300.38,732.80) scale(0.9666,1)" x="0.46 9.35 17.84 30.12 38.94 46.88 51.55 60.43 68.95" y="0" font-size="14.30">24May 00z</text>
<text transform="translate(366.11,732.80) scale(0.9581,1)" x="0.50 9.47 18.05 30.43 39.32 47.31 52.04 61.01 69.59" y="0" font-size="14.30">24May 12z</text>
<text transform="translate(431.88,732.80) scale(0.9597,1)" x="0.50 9.45 18.01 30.37 39.24 47.23 51.95 60.90 69.47" y="0" font-size="14.30">25May 00z</text>
<text transform="translate(497.61,732.80) scale(0.9510,1)" x="0.54 9.57 18.23 30.68 39.64 47.68 52.46 61.50 70.14" y="0" font-size="14.30">25May 12z</text>
<text transform="translate(563.43,732.80) scale(0.9705,1)" x="0.45 9.30 17.75 29.99 38.77 46.69 51.33 60.18 68.66" y="0" font-size="14.30">26May 00z</text>
<text transform="translate(629.16,732.80) scale(0.9619,1)" x="0.49 9.42 17.96 30.29 39.15 47.12 51.82 60.75 69.31" y="0" font-size="14.30">26May 12z</text>
<text transform="translate(694.93,732.80) scale(0.9634,1)" x="0.48 9.40 17.92 30.24 39.08 47.04 51.74 60.65 69.19" y="0" font-size="14.30">27May 00z</text>
<text transform="translate(760.66,732.80) scale(0.9546,1)" x="0.52 9.52 18.14 30.55 39.47 47.49 52.25 61.25 69.86" y="0" font-size="14.30">27May 12z</text>
<text transform="translate(826.46,732.80) scale(0.9668,1)" x="0.46 9.35 17.83 30.12 38.93 46.87 51.54 60.42 68.93" y="0" font-size="14.30">28May 00z</text>
<text transform="translate(892.19,732.80) scale(0.9582,1)" x="0.50 9.47 18.05 30.42 39.31 47.31 52.04 61.00 69.58" y="0" font-size="14.30">28May 12z</text>
<text transform="translate(957.99,732.80) scale(0.9692,1)" x="0.45 9.31 17.77 30.03 38.82 46.75 51.40 60.26 68.75" y="0" font-size="14.30">29May 00z</text>
<text transform="translate(580.80,752.80) scale(0.9443,1)" x="0.34 11.41 20.58 25.79 34.45 39.12 44.36 54.75 63.31 73.04" y="0" font-size="14.30">Date (UTC)</text>
<text transform="translate(171.40,441.66) rotate(-90) scale(0.9587,1)" x="0.50 9.46 18.42 27.13 31.84 39.76 49.11 57.02 61.18 70.20 77.02 90.33 99.03 103.50 108.09 113.88 120.02 130.46" y="0" font-size="14.30">850 hPa Temp. (°C)</text>
<text transform="translate(1070.60,438.54) rotate(-90) scale(1.0019,1)" x="-0.71 8.51 13.59 21.55 29.11 32.87 41.41 45.52 50.30 59.06 63.98 67.58 75.97 84.37 88.75 94.36 107.49 120.26" y="0" font-size="14.30">Precipitation (mm)</text>
<text transform="translate(152.79,766.90) scale(0.9541,1)" x="-0.12 16.04 28.30 42.25 48.17 62.82 75.71 87.20 101.13 121.22 134.52 140.43 153.35 160.11 167.27 180.81 193.95 201.11 214.05 230.16 236.93 244.08 256.38" y="0" font-size="21.51">GFS Ensemble, 45.5N, 9E</text>
<text transform="translate(827.30,766.60) scale(1.0340,1)" x="-0.44 19.47 31.20 38.90 45.80 58.27 65.66 76.25 88.51 101.58 108.87 116.52 128.86 134.03 146.19 152.54 164.81" y="0" font-size="21.51">Wetterzentrale.de</text>
<path d="M0 51.6H10.2" stroke="#1e2896" stroke-width="2.8"/>
<text transform="translate(10.49,54.50) scale(0.9000,1)" x="-0.25 9.84" y="0" font-size="14.30">P1</text>
<path d="M67.3 51.6H81.3" stroke="#2846a5" stroke-width="2.8"/>
<text transform="translate(81.79,54.50) scale(0.9000,1)" x="-0.25 9.84" y="0" font-size="14.30">P2</text>
<path d="M0 70.6H10.2" stroke="#286eb9" stroke-width="2.8"/>
<text transform="translate(10.49,73.54) scale(0.9000,1)" x="-0.25 9.84" y="0" font-size="14.30">P3</text>
<path d="M67.3 70.6H81.3" stroke="#2896c3" stroke-width="2.8"/>
<text transform="translate(81.84,73.54) scale(0.9143,1)" x="-0.32 9.62" y="0" font-size="14.30">P4</text>
<path d="M0 89.7H10.2" stroke="#32a0aa" stroke-width="2.8"/>
<text transform="translate(10.49,92.58) scale(0.9000,1)" x="-0.25 9.84" y="0" font-size="14.30">P5</text>
<path d="M67.3 89.7H81.3" stroke="#28a078" stroke-width="2.8"/>
<text transform="translate(81.89,92.58) scale(0.9272,1)" x="-0.38 9.43" y="0" font-size="14.30">P6</text>
<path d="M0 108.7H10.2" stroke="#28a05a" stroke-width="2.8"/>
<text transform="translate(10.49,111.62) scale(0.9000,1)" x="-0.25 9.84" y="0" font-size="14.30">P7</text>
<path d="M67.3 108.7H81.3" stroke="#28a546" stroke-width="2.8"/>
<text transform="translate(81.84,111.62) scale(0.9133,1)" x="-0.31 9.64" y="0" font-size="14.30">P8</text>
<path d="M0 127.8H10.2" stroke="#28aa32" stroke-width="2.8"/>
<text transform="translate(10.57,130.66) scale(0.9225,1)" x="-0.36 9.50" y="0" font-size="14.30">P9</text>
<path d="M67.3 127.8H81.3" stroke="#32ac28" stroke-width="2.8"/>
<text transform="translate(81.87,130.66) scale(0.9226,1)" x="-0.36 9.50 18.81" y="0" font-size="14.30">P10</text>
<path d="M0 146.8H10.2" stroke="#b9b932" stroke-width="2.8"/>
<text transform="translate(10.52,149.70) scale(0.9084,1)" x="-0.29 9.71 19.17" y="0" font-size="14.30">P11</text>
<path d="M67.3 146.8H81.3" stroke="#beaf3c" stroke-width="2.8"/>
<text transform="translate(81.83,149.70) scale(0.9106,1)" x="-0.30 9.68 19.11" y="0" font-size="14.30">P12</text>
<path d="M0 165.8H10.2" stroke="#bea03c" stroke-width="2.8"/>
<text transform="translate(10.53,168.74) scale(0.9110,1)" x="-0.30 9.67 19.10" y="0" font-size="14.30">P13</text>
<path d="M67.3 165.8H81.3" stroke="#c88c3c" stroke-width="2.8"/>
<text transform="translate(81.89,168.74) scale(0.9261,1)" x="-0.38 9.45 18.72" y="0" font-size="14.30">P14</text>
<path d="M0 184.9H10.2" stroke="#c87d3c" stroke-width="2.8"/>
<text transform="translate(10.52,187.78) scale(0.9061,1)" x="-0.28 9.75 19.23" y="0" font-size="14.30">P15</text>
<path d="M67.3 184.9H81.3" stroke="#c8733c" stroke-width="2.8"/>
<text transform="translate(81.92,187.78) scale(0.9355,1)" x="-0.42 9.32 18.50" y="0" font-size="14.30">P16</text>
<path d="M0 203.9H10.2" stroke="#cd6e32" stroke-width="2.8"/>
<text transform="translate(10.55,206.82) scale(0.9156,1)" x="-0.32 9.60 18.99" y="0" font-size="14.30">P17</text>
<path d="M67.3 203.9H81.3" stroke="#c85a32" stroke-width="2.8"/>
<text transform="translate(81.89,206.82) scale(0.9257,1)" x="-0.37 9.46 18.73" y="0" font-size="14.30">P18</text>
<path d="M0 223.0H10.2" stroke="#b93c3c" stroke-width="2.8"/>
<text transform="translate(10.61,225.86) scale(0.9322,1)" x="-0.40 9.36 18.58" y="0" font-size="14.30">P19</text>
<path d="M67.3 223.0H81.3" stroke="#a53232" stroke-width="2.8"/>
<text transform="translate(81.88,225.86) scale(0.9245,1)" x="-0.37 9.47 18.76" y="0" font-size="14.30">P20</text>
<path d="M0 242.0H10.2" stroke="#285ac8" stroke-width="2.8"/>
<text transform="translate(10.53,244.90) scale(0.9106,1)" x="-0.30 9.68 19.11" y="0" font-size="14.30">P21</text>
<path d="M67.3 242.0H81.3" stroke="#2878c8" stroke-width="2.8"/>
<text transform="translate(81.84,244.90) scale(0.9128,1)" x="-0.31 9.65 19.05" y="0" font-size="14.30">P22</text>
<path d="M0 261.0H10.2" stroke="#3296be" stroke-width="2.8"/>
<text transform="translate(10.54,263.94) scale(0.9132,1)" x="-0.31 9.64 19.05" y="0" font-size="14.30">P23</text>
<path d="M67.3 261.0H81.3" stroke="#32aaaa" stroke-width="2.8"/>
<text transform="translate(81.89,263.94) scale(0.9280,1)" x="-0.38 9.42 18.68" y="0" font-size="14.30">P24</text>
<path d="M0 280.1H10.2" stroke="#28a08c" stroke-width="2.8"/>
<text transform="translate(10.52,282.98) scale(0.9084,1)" x="-0.29 9.71 19.17" y="0" font-size="14.30">P25</text>
<path d="M67.3 280.1H81.3" stroke="#28a06e" stroke-width="2.8"/>
<text transform="translate(81.93,282.98) scale(0.9373,1)" x="-0.43 9.29 18.45" y="0" font-size="14.30">P26</text>
<path d="M0 299.1H10.2" stroke="#28a050" stroke-width="2.8"/>
<text transform="translate(10.56,302.02) scale(0.9177,1)" x="-0.33 9.57 18.93" y="0" font-size="14.30">P27</text>
<path d="M67.3 299.1H81.3" stroke="#28a53c" stroke-width="2.8"/>
<text transform="translate(81.89,302.02) scale(0.9277,1)" x="-0.38 9.43 18.69" y="0" font-size="14.30">P28</text>
<path d="M0 318.2H10.2" stroke="#28b228" stroke-width="2.8"/>
<text transform="translate(10.62,321.06) scale(0.9340,1)" x="-0.41 9.34 18.53" y="0" font-size="14.30">P29</text>
<path d="M67.3 318.2H81.3" stroke="#c3b928" stroke-width="2.8"/>
<text transform="translate(81.88,321.06) scale(0.9248,1)" x="-0.37 9.47 18.76" y="0" font-size="14.30">P30</text>
<path d="M0 338.6H10.2" stroke="#1414e6" stroke-width="2.8"/>
<text transform="translate(11.11,341.50) scale(1.0159,1)" x="-0.53 9.37 17.64 26.45 31.39 36.59 44.60" y="0" font-size="14.30">Control</text>
<path d="M67.3 338.8H81.3" stroke="#f2f2f2" stroke-width="2.8"/>
<text transform="translate(81.82,341.60) scale(0.9607,1)" x="-0.33 9.35 17.87 25.35 29.82 34.93 48.07 56.70 65.46" y="0" font-size="14.30">Ens. mean</text>
<path d="M67.3 372.2H81.3" stroke="#d8444a" stroke-width="2.8"/>
<text transform="translate(81.17,376.90) scale(0.9853,1)" x="0.38 9.10 17.82 26.53 34.96 40.19 48.91 57.63 66.35" y="0" font-size="14.30">1991-2020</text>
<text transform="translate(81.03,389.40) scale(0.9951,1)" x="0.65 13.41 21.74 30.20" y="0" font-size="14.30">mean</text>
<path d="M0 389.4H10.2" stroke="#22d022" stroke-width="2.8"/>
<text transform="translate(10.98,392.40) scale(1.0148,1)" x="-0.33 10.72 19.03 27.45" y="0" font-size="14.30">Oper</text>
</svg></body></html>
